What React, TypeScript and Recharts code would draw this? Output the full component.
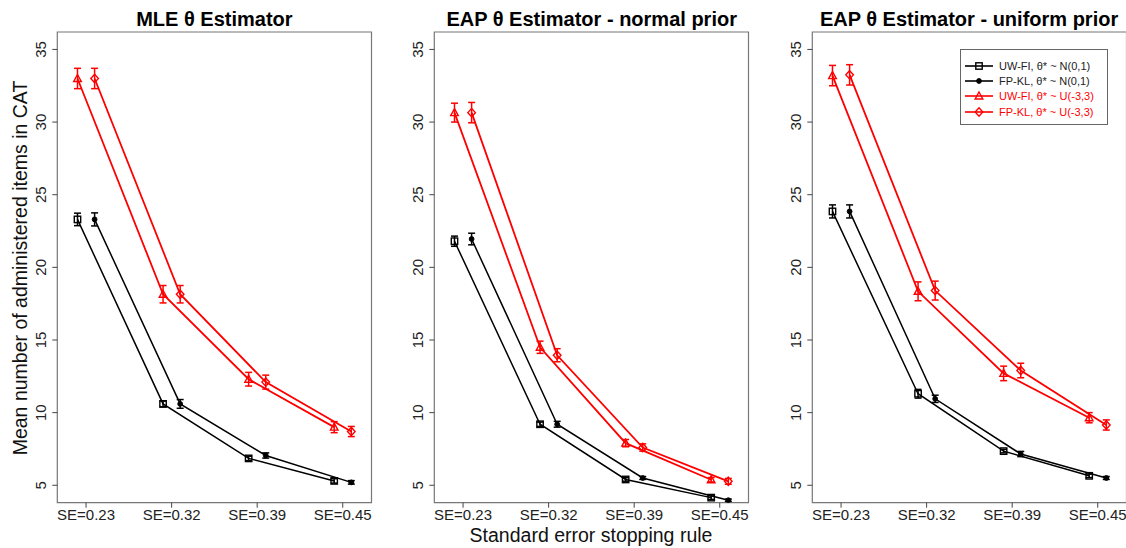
import { LineChart, Line, XAxis, YAxis, ErrorBar, ReferenceArea } from "recharts";

const SE_LABELS = ["SE=0.23", "SE=0.32", "SE=0.39", "SE=0.45"];
const Y_TICKS = [5, 10, 15, 20, 25, 30, 35];

// MLE theta estimator
const MLE_UWFI_N = [23.3, 10.6, 6.85, 5.3];
const MLE_UWFI_N_ERR = [0.43, 0.2, 0.15, 0.15];
const MLE_FPKL_N = [23.3, 10.6, 7.05, 5.2];
const MLE_FPKL_N_ERR = [0.45, 0.3, 0.18, 0.12];
const MLE_UWFI_U = [33.0, 18.15, 12.3, 9.0];
const MLE_UWFI_U_ERR = [0.7, 0.6, 0.47, 0.38];
const MLE_FPKL_U = [33.0, 18.15, 12.1, 8.7];
const MLE_FPKL_U_ERR = [0.7, 0.6, 0.48, 0.35];

// EAP, normal prior
const EAPN_UWFI_N = [21.8, 9.2, 5.4, 4.15];
const EAPN_UWFI_N_ERR = [0.35, 0.15, 0.12, 0.12];
const EAPN_FPKL_N = [21.95, 9.2, 5.5, 3.97];
const EAPN_FPKL_N_ERR = [0.4, 0.2, 0.1, 0.08];
const EAPN_UWFI_U = [30.65, 14.5, 7.9, 5.38];
const EAPN_UWFI_U_ERR = [0.65, 0.42, 0.25, 0.15];
const EAPN_FPKL_U = [30.65, 13.95, 7.6, 5.27];
const EAPN_FPKL_U_ERR = [0.7, 0.45, 0.25, 0.2];

// EAP, uniform prior
const EAPU_UWFI_N = [23.85, 11.3, 7.35, 5.65];
const EAPU_UWFI_N_ERR = [0.45, 0.3, 0.12, 0.12];
const EAPU_FPKL_N = [23.85, 10.95, 7.15, 5.5];
const EAPU_FPKL_N_ERR = [0.45, 0.25, 0.18, 0.1];
const EAPU_UWFI_U = [33.2, 18.35, 12.7, 9.65];
const EAPU_UWFI_U_ERR = [0.7, 0.65, 0.5, 0.35];
const EAPU_FPKL_U = [33.25, 18.4, 12.9, 9.15];
const EAPU_FPKL_U_ERR = [0.7, 0.65, 0.5, 0.35];

const LEGEND_LABELS = [
  "UW-FI, θ* ~ N(0,1)",
  "FP-KL, θ* ~ N(0,1)",
  "UW-FI, θ* ~ U(-3,3)",
  "FP-KL, θ* ~ U(-3,3)",
];

const FONT = '"Liberation Sans", Arial, sans-serif';
const BLACK = "#000000";
const RED = "#ff0000";
const X_DOMAIN = [0.664, 4.336];
const Y_DOMAIN = [3.8, 36.2];
const OFFSET = 0.1;

const W = 378;
const H = 548;
const BOX_LEFT = 57.3;
const BOX_W = 314.2;
const BOX_TOP = 32;
const BOX_BOTTOM = 502.7;

type Shape = "square" | "dot" | "triangle" | "diamond";

function marker(shape: Shape, color: string, cx: number, cy: number, key?: string | number) {
  if (shape === "square") {
    return <rect key={key} x={cx - 3.2} y={cy - 3.2} width={6.4} height={6.4} fill="none" stroke={color} strokeWidth={1.4} />;
  }
  if (shape === "dot") {
    return <circle key={key} cx={cx} cy={cy} r={2.4} fill={color} stroke={color} />;
  }
  if (shape === "triangle") {
    return (
      <polygon
        key={key}
        points={`${cx},${cy - 4} ${cx + 3.8},${cy + 3} ${cx - 3.8},${cy + 3}`}
        fill="none"
        stroke={color}
        strokeWidth={1.4}
      />
    );
  }
  return (
    <polygon
      key={key}
      points={`${cx},${cy - 4.2} ${cx + 3.8},${cy} ${cx},${cy + 4.2} ${cx - 3.8},${cy}`}
      fill="none"
      stroke={color}
      strokeWidth={1.4}
    />
  );
}

type Series = { values: number[]; errs: number[]; shape: Shape; color: string; dx: number };

function makeSeries(values: number[], errs: number[], shape: Shape, color: string, dx: number): Series {
  return { values, errs, shape, color, dx };
}

function YTick(props: any) {
  const { x, y, payload } = props;
  return (
    <text x={x} y={y} transform={`rotate(-90, ${x}, ${y})`} textAnchor="middle" fontSize={15} fill="#222" fontFamily={FONT}>
      {payload.value}
    </text>
  );
}

function XTick(props: any) {
  const { x, y, payload } = props;
  return (
    <text x={x} y={y} dy="0.71em" textAnchor="middle" fontSize={15} fill="#222" fontFamily={FONT}>
      {SE_LABELS[payload.value - 1]}
    </text>
  );
}

function Panel({ left, title, series }: { left: number; title: string; series: Series[] }) {
  return (
    <div style={{ position: "absolute", left, top: 0, width: W, height: H }}>
      <div
        style={{
          position: "absolute",
          left: BOX_LEFT - 20,
          width: BOX_W + 40,
          top: 7,
          textAlign: "center",
          fontFamily: FONT,
          fontWeight: "bold",
          fontSize: 20,
          lineHeight: "24px",
          color: "#000",
        }}
      >
        {title}
      </div>
      <LineChart
        width={W}
        height={H}
        margin={{ top: BOX_TOP, right: W - BOX_LEFT - BOX_W, bottom: H - BOX_BOTTOM - 30, left: BOX_LEFT - 30 }}
      >
        <XAxis
          dataKey="x"
          type="number"
          domain={X_DOMAIN}
          allowDataOverflow
          ticks={[1, 2, 3, 4]}
          tick={<XTick />}
          height={30}
          tickSize={5}
          tickMargin={2}
          axisLine={false}
          tickLine={{ stroke: "#444" }}
        />
        <YAxis
          type="number"
          domain={Y_DOMAIN}
          allowDataOverflow
          ticks={Y_TICKS}
          tick={<YTick />}
          width={30}
          tickSize={5}
          tickMargin={6.5}
          axisLine={false}
          tickLine={{ stroke: "#444" }}
        />
        <ReferenceArea
          x1={X_DOMAIN[0]}
          x2={X_DOMAIN[1]}
          y1={Y_DOMAIN[0]}
          y2={Y_DOMAIN[1]}
          fill="none"
          fillOpacity={0}
          stroke="#777"
          strokeWidth={1.2}
        />
        {series.map((s, i) => {
          const data = s.values.map((v, j) => ({ x: j + 1 + s.dx, y: v, err: s.errs[j] }));
          return (
            <Line
              key={i}
              data={data}
              dataKey="y"
              type="linear"
              stroke={s.color}
              strokeWidth={s.color === RED ? 1.8 : 1.5}
              isAnimationActive={false}
              dot={(p: any) => marker(s.shape, s.color, p.cx, p.cy, p.index)}
              activeDot={false}
            >
              <ErrorBar dataKey="err" direction="y" width={3.5} stroke={s.color} strokeWidth={1.5} />
            </Line>
          );
        })}
      </LineChart>
    </div>
  );
}

function Legend() {
  const items: { shape: Shape; color: string }[] = [
    { shape: "square", color: BLACK },
    { shape: "dot", color: BLACK },
    { shape: "triangle", color: RED },
    { shape: "diamond", color: RED },
  ];
  return (
    <div
      style={{
        position: "absolute",
        left: 960,
        top: 49,
        width: 148,
        height: 76,
        border: "1px solid #666",
        background: "#fff",
        paddingTop: 8,
        boxSizing: "border-box",
      }}
    >
      {items.map((it, i) => (
        <div key={i} style={{ height: 15.3, display: "flex", alignItems: "center" }}>
          <svg width={36} height={14} style={{ flex: "none" }}>
            <line x1={4} y1={7} x2={32} y2={7} stroke={it.color} strokeWidth={1.6} />
            {marker(it.shape, it.color, 18, 7)}
          </svg>
          <span
            style={{
              fontFamily: FONT,
              fontSize: 11,
              color: it.color === RED ? RED : "#222",
              marginLeft: 2,
              whiteSpace: "nowrap",
            }}
          >
            {LEGEND_LABELS[i]}
          </span>
        </div>
      ))}
    </div>
  );
}

export default function App() {
  const mle = [
    makeSeries(MLE_UWFI_N, MLE_UWFI_N_ERR, "square", BLACK, -OFFSET),
    makeSeries(MLE_FPKL_N, MLE_FPKL_N_ERR, "dot", BLACK, OFFSET),
    makeSeries(MLE_UWFI_U, MLE_UWFI_U_ERR, "triangle", RED, -OFFSET),
    makeSeries(MLE_FPKL_U, MLE_FPKL_U_ERR, "diamond", RED, OFFSET),
  ];
  const eapN = [
    makeSeries(EAPN_UWFI_N, EAPN_UWFI_N_ERR, "square", BLACK, -OFFSET),
    makeSeries(EAPN_FPKL_N, EAPN_FPKL_N_ERR, "dot", BLACK, OFFSET),
    makeSeries(EAPN_UWFI_U, EAPN_UWFI_U_ERR, "triangle", RED, -OFFSET),
    makeSeries(EAPN_FPKL_U, EAPN_FPKL_U_ERR, "diamond", RED, OFFSET),
  ];
  const eapU = [
    makeSeries(EAPU_UWFI_N, EAPU_UWFI_N_ERR, "square", BLACK, -OFFSET),
    makeSeries(EAPU_FPKL_N, EAPU_FPKL_N_ERR, "dot", BLACK, OFFSET),
    makeSeries(EAPU_UWFI_U, EAPU_UWFI_U_ERR, "triangle", RED, -OFFSET),
    makeSeries(EAPU_FPKL_U, EAPU_FPKL_U_ERR, "diamond", RED, OFFSET),
  ];

  return (
    <div style={{ position: "absolute", left: 0, top: 0, width: 1126, height: 548, overflow: "hidden", background: "#fff" }}>
      <Panel left={0} title="MLE θ Estimator" series={mle} />
      <Panel left={377.3} title="EAP θ Estimator - normal prior" series={eapN} />
      <Panel left={754.7} title="EAP θ Estimator - uniform prior" series={eapU} />
      <Legend />
      <div
        style={{
          position: "absolute",
          left: 20 - 220,
          top: 268 - 12,
          width: 440,
          height: 24,
          lineHeight: "24px",
          textAlign: "center",
          transform: "rotate(-90deg)",
          fontFamily: FONT,
          fontSize: 19.5,
          color: "#111",
          whiteSpace: "nowrap",
        }}
      >
        Mean number of administered items in CAT
      </div>
      <div
        style={{
          position: "absolute",
          left: 591 - 200,
          top: 535 - 12,
          width: 400,
          height: 24,
          lineHeight: "24px",
          textAlign: "center",
          fontFamily: FONT,
          fontSize: 19.5,
          color: "#111",
          whiteSpace: "nowrap",
        }}
      >
        Standard error stopping rule
      </div>
    </div>
  );
}
